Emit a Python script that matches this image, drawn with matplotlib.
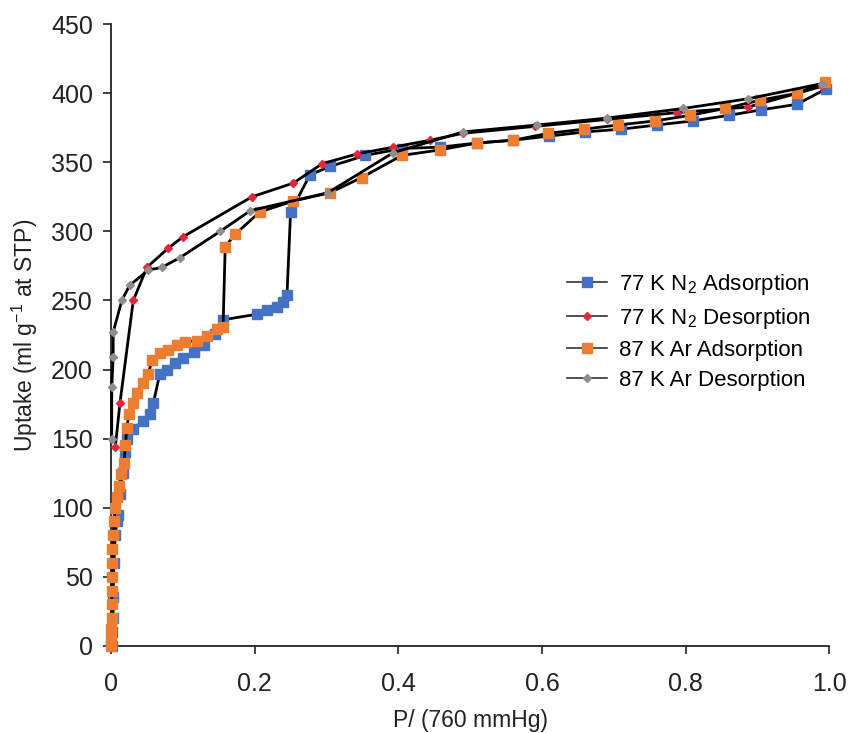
import numpy as np
import matplotlib.pyplot as plt

plt.rcParams['font.family'] = ['Liberation Sans', 'DejaVu Sans']
plt.rcParams['mathtext.fontset'] = 'custom'
plt.rcParams['mathtext.rm'] = 'Liberation Sans'

# 77 K N2 adsorption
n2_ads_p = [0.002, 0.002, 0.003, 0.003, 0.004, 0.006, 0.008, 0.010, 0.013, 0.016, 0.019,
            0.022, 0.031, 0.045, 0.054, 0.059, 0.068, 0.078, 0.089, 0.100, 0.115, 0.130,
            0.145, 0.156, 0.203, 0.217, 0.231, 0.240, 0.245, 0.250, 0.277, 0.305, 0.354,
            0.405, 0.458, 0.510, 0.560, 0.610, 0.660, 0.710, 0.760, 0.810, 0.860, 0.905,
            0.955, 0.995]
n2_ads_v = [0, 10, 20, 35, 60, 80, 90, 95, 110, 125, 140,
            150, 157, 163, 168, 176, 197, 200, 205, 208, 213, 218,
            226, 236, 240, 243, 245, 249, 254, 314, 341, 347, 355,
            360, 361, 364, 366, 369, 372, 374, 377, 380, 384, 388,
            392, 403]

# 77 K N2 desorption
n2_des_p = [0.990, 0.887, 0.788, 0.690, 0.590, 0.490, 0.444, 0.393, 0.342, 0.294, 0.254,
            0.196, 0.100, 0.080, 0.050, 0.031, 0.0125, 0.006]
n2_des_v = [405, 390, 386, 381, 376, 371, 366, 361, 356, 349, 335,
            325, 296, 288, 274, 250, 176, 144]

# 87 K Ar adsorption
ar_ads_p = [0.000, 0.000, 0.000, 0.001, 0.001, 0.001, 0.001, 0.002, 0.002, 0.003, 0.004,
            0.006, 0.008, 0.011, 0.014, 0.018, 0.020, 0.022, 0.025, 0.030, 0.036, 0.045,
            0.052, 0.057, 0.068, 0.080, 0.092, 0.103, 0.120, 0.133, 0.148, 0.156, 0.159,
            0.173, 0.207, 0.254, 0.305, 0.349, 0.405, 0.458, 0.510, 0.560, 0.609, 0.658,
            0.706, 0.758, 0.806, 0.855, 0.904, 0.955, 0.994]
ar_ads_v = [0, 5, 12, 20, 30, 40, 50, 60, 70, 80, 90,
            100, 108, 116, 124, 132, 145, 158, 168, 176, 183, 190,
            197, 207, 212, 214, 218, 220, 221, 224, 229, 231, 289,
            298, 314, 322, 328, 339, 355, 359, 364, 366, 371, 374,
            377, 380, 384, 389, 395, 400, 408]

# 87 K Ar desorption
ar_des_p = [0.990, 0.887, 0.797, 0.690, 0.593, 0.490, 0.393, 0.302, 0.194, 0.152, 0.096,
            0.071, 0.052, 0.026, 0.015, 0.003, 0.003, 0.001, 0.001]
ar_des_v = [407, 396, 389, 382, 377, 372, 357, 328, 315, 300, 281,
            274, 272, 261, 250, 227, 209, 187, 150]

fig = plt.figure(figsize=(8.54, 7.33), dpi=100)
ax = fig.add_axes([0.130, 0.119, 0.841, 0.848])

ax.plot(n2_ads_p, n2_ads_v, color='k', lw=2, marker='s', ms=7.5,
        mfc='#4472C4', mec='#4472C4', clip_on=False, zorder=3,
        label=r'77 K N$_\mathregular{2}$ Adsorption')
ax.plot(n2_des_p, n2_des_v, color='k', lw=2, marker='D', ms=4.5,
        mfc='#E3263E', mec='#E3263E', clip_on=False, zorder=4,
        label=r'77 K N$_\mathregular{2}$ Desorption')
ax.plot(ar_ads_p, ar_ads_v, color='k', lw=2, marker='s', ms=7.5,
        mfc='#ED7D31', mec='#ED7D31', clip_on=False, zorder=5,
        label='87 K Ar Adsorption')
ax.plot(ar_des_p, ar_des_v, color='k', lw=2, marker='D', ms=4.5,
        mfc='#8E8E8E', mec='#8E8E8E', clip_on=False, zorder=6,
        label='87 K Ar Desorption')

ax.set_xlim(0, 1.0)
ax.set_ylim(0, 450)
ax.set_xticks([0, 0.2, 0.4, 0.6, 0.8, 1.0])
ax.set_xticklabels(['0', '0.2', '0.4', '0.6', '0.8', '1.0'])
ax.set_yticks(np.arange(0, 451, 50))
ax.tick_params(labelsize=18, length=6, width=1.2, colors='#222222')
ax.tick_params(axis='x', pad=13)
ax.tick_params(axis='y', pad=7)
for s in ['top', 'right']:
    ax.spines[s].set_visible(False)
for s in ['left', 'bottom']:
    ax.spines[s].set_linewidth(1.3)
    ax.spines[s].set_color('#222222')

ax.set_xlabel('P/ (760 mmHg)', fontsize=16.5, color='#222222', labelpad=9)
ax.set_ylabel(r'Uptake (ml g$^{\mathregular{-1}}$ at STP)', fontsize=16.5,
              color='#222222', labelpad=8)

leg = ax.legend(loc='center left', bbox_to_anchor=(0.635, 0.506), frameon=False,
                fontsize=16, handlelength=1.8, handletextpad=0.55,
                labelspacing=0.4, borderpad=0, borderaxespad=0)
for h in leg.legend_handles:
    h.set_linewidth(1.2)
    h.set_color('#333333')

fig.savefig('out.png', dpi=100)
